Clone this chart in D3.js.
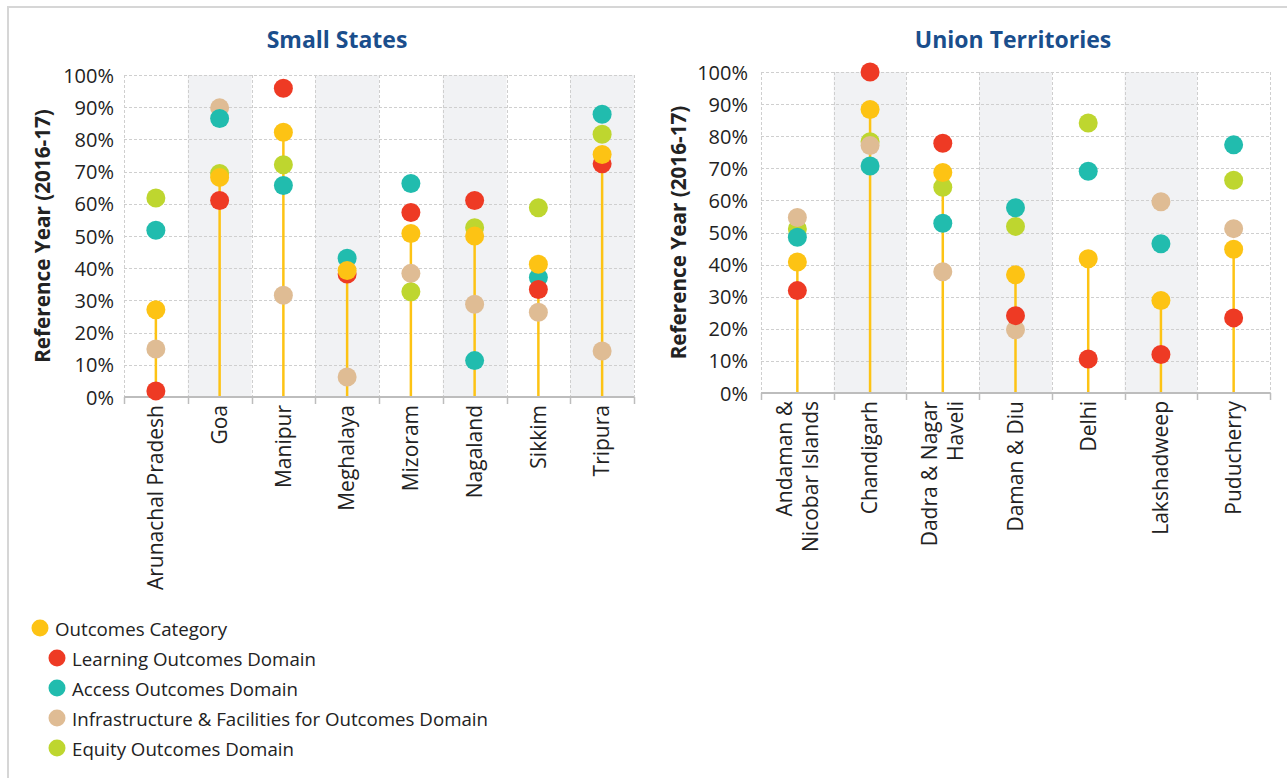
<!DOCTYPE html>
<html>
<head>
<meta charset="utf-8">
<script src="https://cdn.jsdelivr.net/npm/d3@7"></script>
<style>
  html, body { margin: 0; padding: 0; background: #fff; }
  svg { display: block; }
  text { font-family: "Open Sans", Lato, sans-serif; fill: #222; }
</style>
</head>
<body>
<svg id="chart" width="1287" height="778"></svg>
<script>
// ---------- DATA ----------
const stateCategories = ["Arunachal Pradesh", "Goa", "Manipur", "Meghalaya", "Mizoram", "Nagaland", "Sikkim", "Tripura"];
const stateOutcomes   = [27.1, 68.2, 82.2, 39.3, 50.8, 50.0, 41.2, 75.3];
const stateLearning   = [1.9, 61.0, 95.9, 38.2, 57.3, 61.0, 33.4, 72.4];
const stateAccess     = [51.8, 86.5, 65.7, 43.1, 66.3, 11.3, 37.1, 87.8];
const stateInfra      = [14.9, 89.8, 31.6, 6.2, 38.4, 28.8, 26.3, 14.3];
const stateEquity     = [61.8, 69.4, 72.1, null, 32.7, 52.6, 58.8, 81.6];

const utCategories = ["Andaman &\nNicobar Islands", "Chandigarh", "Dadra & Nagar\nHaveli", "Daman & Diu", "Delhi", "Lakshadweep", "Puducherry"];
const utOutcomes   = [40.8, 88.3, 68.7, 36.8, 41.8, 28.8, 44.8];
const utLearning   = [31.9, 100, 77.8, 24.1, 10.6, 12.0, 23.4];
const utAccess     = [48.5, 70.7, 52.9, 57.7, 69.1, 46.5, 77.3];
const utInfra      = [54.7, 77.1, 37.8, 19.7, null, 59.6, 51.2];
const utEquity     = [51.1, 78.3, 64.1, 51.9, 84.1, null, 66.3];

const yTicks = [0, 10, 20, 30, 40, 50, 60, 70, 80, 90, 100];

const seriesNames = ["Outcomes Category", "Learning Outcomes Domain", "Access Outcomes Domain",
                     "Infrastructure & Facilities for Outcomes Domain", "Equity Outcomes Domain"];
const seriesColors = ["#FDC314", "#EE3A24", "#21BCAE", "#DFBC94", "#BED62F"];

// ---------- DRAW ----------
const svg = d3.select("#chart");

// outer frame
svg.append("path")
  .attr("d", "M8,790 L8,7 L1295,7")
  .attr("fill", "none").attr("stroke", "#d6d6d6").attr("stroke-width", 2);

function panel(opt) {
  const { cats, series, x0, x1, y0, y1, title, titleX, labelX, tickX } = opt;
  const g = svg.append("g");
  const x = d3.scaleBand().domain(cats).range([x0, x1]).padding(0);
  const y = d3.scaleLinear().domain([0, 100]).range([y0, y1]);

  // shaded alternate columns
  g.selectAll("rect.shade").data(cats.filter((c, i) => i % 2 === 1)).enter()
    .append("rect")
    .attr("x", d => x(d)).attr("y", y(100))
    .attr("width", x.bandwidth()).attr("height", y(0) - y(100))
    .attr("fill", "#f1f2f4");

  // horizontal grid
  g.selectAll("line.hg").data(yTicks.filter(t => t > 0)).enter()
    .append("line")
    .attr("x1", x0).attr("x2", x1)
    .attr("y1", d => Math.round(y(d)) + 0.5).attr("y2", d => Math.round(y(d)) + 0.5)
    .attr("stroke", "#cfcfcf").attr("stroke-width", 1).attr("stroke-dasharray", "3,2");

  // vertical grid
  const bounds = cats.map(c => x(c)).concat([x1]);
  g.selectAll("line.vg").data(bounds).enter()
    .append("line")
    .attr("x1", d => Math.round(d) + 0.5).attr("x2", d => Math.round(d) + 0.5)
    .attr("y1", y(100)).attr("y2", y(0))
    .attr("stroke", "#cfcfcf").attr("stroke-width", 1).attr("stroke-dasharray", "3,2");

  // y tick labels
  g.selectAll("text.yt").data(yTicks).enter()
    .append("text")
    .attr("x", tickX).attr("y", d => y(d))
    .attr("text-anchor", "end").attr("dominant-baseline", "central")
    .style("font-size", "20px")
    .text(d => d + "%");

  // y axis title
  g.append("text")
    .attr("transform", `translate(${labelX},${(y(0) + y(100)) / 2}) rotate(-90)`)
    .attr("text-anchor", "middle").attr("dominant-baseline", "central")
    .style("font-size", "20.7px").style("font-weight", "bold")
    .text("Reference Year (2016-17)");

  // title
  g.append("text")
    .attr("x", titleX).attr("y", 48)
    .attr("text-anchor", "middle")
    .style("font-size", "23px").style("font-weight", "bold").style("fill", "#1a4e8c")
    .text(title);

  // stems
  const cx = c => x(c) + x.bandwidth() / 2;
  g.selectAll("line.stem").data(cats).enter()
    .append("line")
    .attr("x1", d => cx(d)).attr("x2", d => cx(d))
    .attr("y1", y(0)).attr("y2", (d, i) => y(series[0][i]))
    .attr("stroke", "#FDC314").attr("stroke-width", 2.5);

  // x axis line & ticks
  g.append("line")
    .attr("x1", x0).attr("x2", x1).attr("y1", y(0)).attr("y2", y(0))
    .attr("stroke", "#bdbdbd").attr("stroke-width", 2);
  g.selectAll("line.xt").data(bounds).enter()
    .append("line")
    .attr("x1", d => Math.round(d) + 0.5).attr("x2", d => Math.round(d) + 0.5)
    .attr("y1", y(0)).attr("y2", y(0) + 7)
    .attr("stroke", "#bdbdbd").attr("stroke-width", 1.5);

  // dots: draw order equity, infra, access, learning, outcomes
  const order = [4, 3, 2, 1, 0];
  order.forEach(si => {
    g.selectAll(null).data(cats.map((c, i) => ({ c, v: series[si][i] })).filter(d => d.v != null)).enter()
      .append("circle")
      .attr("cx", d => cx(d.c)).attr("cy", d => y(d.v))
      .attr("r", 9.5)
      .attr("fill", seriesColors[si]);
  });

  // category labels
  cats.forEach(c => {
    const lines = c.split("\n");
    const lh = 26;
    const t = g.append("text")
      .attr("transform", `translate(${cx(c)},${y(0) + 8}) rotate(-90)`)
      .attr("text-anchor", "end")
      .style("font-size", "21px");
    lines.forEach((ln, i) => {
      t.append("tspan")
        .attr("x", 0)
        .attr("y", (i - (lines.length - 1) / 2) * lh)
        .attr("dy", "0.35em")
        .text(ln);
    });
  });
}

panel({
  cats: stateCategories,
  series: [stateOutcomes, stateLearning, stateAccess, stateInfra, stateEquity],
  x0: 124, x1: 634, y0: 397, y1: 75,
  title: "Small States", titleX: 337, labelX: 42, tickX: 114
});

panel({
  cats: utCategories,
  series: [utOutcomes, utLearning, utAccess, utInfra, utEquity],
  x0: 761, x1: 1270, y0: 393, y1: 72,
  title: "Union Territories", titleX: 1013, labelX: 678, tickX: 748
});

// legend
const legendItems = seriesNames.map((n, i) => ({ n, c: seriesColors[i], i }));
const lg = svg.append("g");
legendItems.forEach(d => {
  const cy = 628 + d.i * 30;
  const cxl = d.i === 0 ? 40 : 57;
  lg.append("circle").attr("cx", cxl).attr("cy", cy).attr("r", 8.5).attr("fill", d.c);
  lg.append("text").attr("x", cxl + 15).attr("y", cy)
    .attr("dominant-baseline", "central")
    .style("font-size", "18.7px")
    .text(d.n);
});
</script>
</body>
</html>
